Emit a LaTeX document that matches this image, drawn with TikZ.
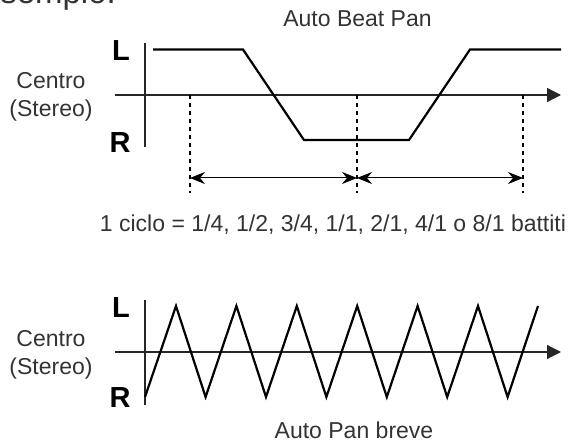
\documentclass[tikz,border=0pt]{standalone}
\usepackage{fontspec}
\setmainfont{Liberation Sans}
\usetikzlibrary{arrows.meta}
\definecolor{textgray}{RGB}{51,51,51}

\begin{document}
\begin{tikzpicture}[
    x=1pt, y=-1pt,
    caption/.style={font=\fontsize{23}{27.5}\selectfont, text=textgray, inner sep=0pt, align=center},
    side/.style={font=\fontsize{29}{30}\selectfont\bfseries, inner sep=0pt},
    axis/.style={line width=1.2pt, draw=black!85, -{Triangle[length=14pt, width=14pt]}},
    yaxis/.style={line width=1.2pt, draw=black!85},
    wave/.style={line width=2.2pt, line join=miter},
    guide/.style={line width=1.1pt, dash pattern=on 4.5pt off 3.5pt},
    span/.style={line width=1pt, {Stealth[length=15pt, width=12pt, inset=5pt]}-{Stealth[length=15pt, width=12pt, inset=5pt]}}
]
    \useasboundingbox (0,0) rectangle (579,443);
    \node[caption, anchor=base east, font=\fontsize{33}{36}\selectfont] (intro) at (116,4) {Esempio:};

    % Auto Beat Pan
    \node[caption, anchor=base] (beat) at (357.5,27) {Auto Beat Pan};
    \node[side] (left1) at (121,51) {L};
    \node[side] (right1) at (120,143) {R};
    \node[caption] (centre1) at (51,97) {Centro\\(Stereo)};
    \coordinate (x1s) at (115,95); \coordinate (x1e) at (561,95);
    \coordinate (y1s) at (145,43); \coordinate (y1e) at (145,147);
    \draw[axis] (x1s) -- (x1e); \draw[yaxis] (y1s) -- (y1e);
    \draw[wave] (153,49.5) -- (243,49.5) -- (304,140) -- (409,140) -- (470,49.5) -- (561,49.5);
    \foreach \n/\x in {g1/190, g2/357, g3/523} {
        \coordinate (\n-top) at (\x,95); \coordinate (\n-bot) at (\x,193); \coordinate (\n-mid) at (\x,178);
        \draw[guide] (\n-top) -- (\n-bot);
    }
    \draw[span] (g1-mid) -- (g2-mid); \draw[span] (g2-mid) -- (g3-mid);
    \node[caption, anchor=base] (cycle) at (333,232) {1 ciclo = 1/4, 1/2, 3/4, 1/1, 2/1, 4/1 o 8/1 battiti};

    % Auto Pan breve
    \node[side] (left2) at (121,308) {L};
    \node[side] (right2) at (120,398) {R};
    \node[caption] (centre2) at (51,355) {Centro\\(Stereo)};
    \coordinate (x2s) at (115,352); \coordinate (x2e) at (561,352);
    \coordinate (y2s) at (145,300); \coordinate (y2e) at (145,405);
    \draw[axis] (x2s) -- (x2e); \draw[yaxis] (y2s) -- (y2e);
    \draw[wave] (145,397) \foreach \i in {0,...,5} { -- ({176+60.4*\i},306) -- ({205.6+60.4*\i},397) } -- (538,306);
    \node[caption, anchor=base] (short) at (354,439) {Auto Pan breve};
\end{tikzpicture}
\end{document}
